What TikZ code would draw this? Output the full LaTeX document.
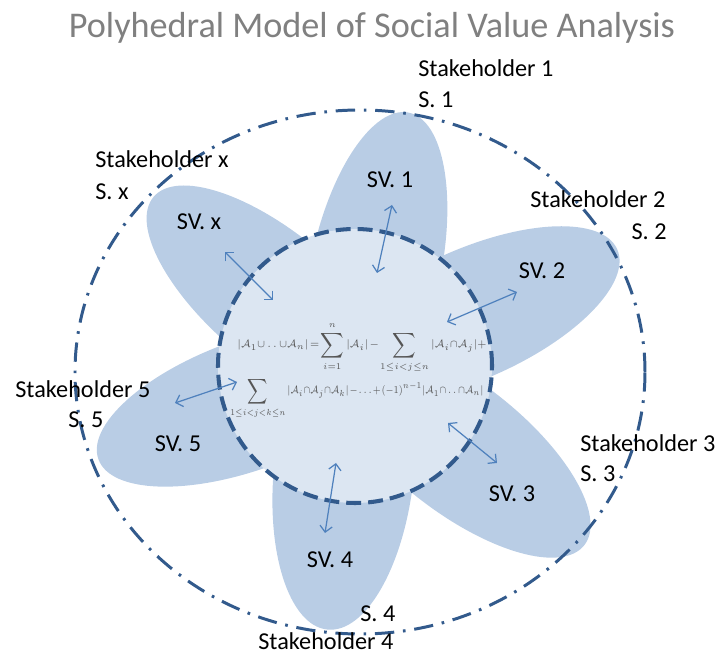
\documentclass[tikz,border=0pt]{standalone}
\usepackage{graphicx}
\usepackage{fontspec}
\setmainfont{Carlito}
\usetikzlibrary{arrows.meta}
\definecolor{petalblue}{RGB}{185,205,229}
\definecolor{corefill}{RGB}{220,230,242}
\definecolor{ringblue}{RGB}{50,90,140}
\definecolor{linkblue}{RGB}{79,129,189}
\definecolor{titlegray}{RGB}{128,128,128}
\definecolor{formgray}{RGB}{85,85,85}
\newcommand{\tightmath}{\medmuskip=1.5mu\thickmuskip=2mu\relax}

\begin{document}
\begin{tikzpicture}[x=0.02cm, y=0.02cm,
    petal/.style={fill=petalblue},
    core/.style={fill=corefill, draw=ringblue, line width=2.3pt, dash pattern=on 8.5pt off 4pt},
    ring/.style={draw=ringblue, line width=1.7pt, dash pattern=on 11pt off 5pt on 1.5pt off 5pt},
    link/.style={linkblue, line width=0.7pt, {Straight Barb[length=3.5pt,width=7pt]}-{Straight Barb[length=3.5pt,width=7pt]}},
    lbl/.style={font=\fontsize{13.8}{16}\selectfont, inner sep=0pt},
    formula/.style={formgray, font=\fontsize{6.2}{7}\selectfont, inner sep=0pt}]
    \useasboundingbox (0,0) rectangle (718,656);
    \coordinate (O) at (355,290);
    % petals
    \fill[petal, shift={(O)}, rotate=78]  (99,0)  ellipse (160 and 65);
    \fill[petal, shift={(O)}, rotate=24]  (127,0) ellipse (160 and 65);
    \fill[petal, shift={(O)}, rotate=-38] (131,0) ellipse (160 and 65);
    \fill[petal, shift={(O)}, rotate=-96] (105,0) ellipse (160 and 70);
    \fill[petal, shift={(O)}, rotate=200] (113,0) ellipse (160 and 65);
    \fill[petal, shift={(O)}, rotate=140] (103,0) ellipse (160 and 65);
    % core and outer ring
    \path[core] (O) circle (137);
    \path[ring] (360,284) ellipse (285 and 262);
    % formula
    \node[formula, anchor=base] (form1) at (362,308)
        {\tightmath\scalebox{0.93}[1]{$|\mathcal{A}_1{\cup}\,.\,.\,{\cup}\mathcal{A}_n| = \displaystyle\sum_{i=1}^{n}|\mathcal{A}_i| - \sum_{1\le i<j\le n}|\mathcal{A}_i{\cap}\mathcal{A}_j| +$}};
    \node[formula, anchor=base] (form2) at (357,262)
        {\tightmath\scalebox{0.8}[1]{$\displaystyle\sum_{\scriptscriptstyle 1\le i<j<k\le n}|\mathcal{A}_i{\cap}\mathcal{A}_j{\cap}\mathcal{A}_k| - \ldots + (-1)^{n-1}|\mathcal{A}_1{\cap}\,.\,.\,{\cap}\mathcal{A}_n|$}};
    % links
    \coordinate (a1) at (392,451); \coordinate (b1) at (377,383);
    \coordinate (a2) at (517,364); \coordinate (b2) at (447,334);
    \coordinate (a3) at (497,193); \coordinate (b3) at (448,233);
    \coordinate (a4) at (325,123); \coordinate (b4) at (336,193);
    \coordinate (a5) at (175,253); \coordinate (b5) at (237,274);
    \coordinate (ax) at (225,404); \coordinate (bx) at (273,356);
    \draw[link] (a1) -- (b1);
    \draw[link] (a2) -- (b2);
    \draw[link] (a3) -- (b3);
    \draw[link] (a4) -- (b4);
    \draw[link] (a5) -- (b5);
    \draw[link] (ax) -- (bx);
    % labels
    \node[titlegray, font=\fontsize{20.6}{24}\selectfont, inner sep=0pt, anchor=base] (title) at (372,618) {Polyhedral Model of Social Value Analysis};
    \node[lbl, anchor=base]      (sv1) at (390,468) {SV. 1};
    \node[lbl, anchor=base]      (sv2) at (542,377) {SV. 2};
    \node[lbl, anchor=base]      (sv3) at (512,154) {SV. 3};
    \node[lbl, anchor=base]      (sv4) at (330,88)  {SV. 4};
    \node[lbl, anchor=base]      (sv5) at (178,204) {SV. 5};
    \node[lbl, anchor=base]      (svx) at (199,426) {SV. x};
    \node[lbl, anchor=base west] (sh1) at (418,579) {Stakeholder 1};
    \node[lbl, anchor=base west] (s1)  at (418,548) {S. 1};
    \node[lbl, anchor=base west] (sh2) at (530,448) {Stakeholder 2};
    \node[lbl, anchor=base east] (s2)  at (667,416) {S. 2};
    \node[lbl, anchor=base west] (sh3) at (580,204) {Stakeholder 3};
    \node[lbl, anchor=base west] (s3)  at (580,174) {S. 3};
    \node[lbl, anchor=base west] (sh4) at (258,6)   {Stakeholder 4};
    \node[lbl, anchor=base west] (s4)  at (360,34)  {S. 4};
    \node[lbl, anchor=base west] (sh5) at (15,258)  {Stakeholder 5};
    \node[lbl, anchor=base west] (s5)  at (68,228)  {S. 5};
    \node[lbl, anchor=base west] (shx) at (95,488)  {Stakeholder x};
    \node[lbl, anchor=base west] (sx)  at (95,456)  {S. x};
\end{tikzpicture}
\end{document}
